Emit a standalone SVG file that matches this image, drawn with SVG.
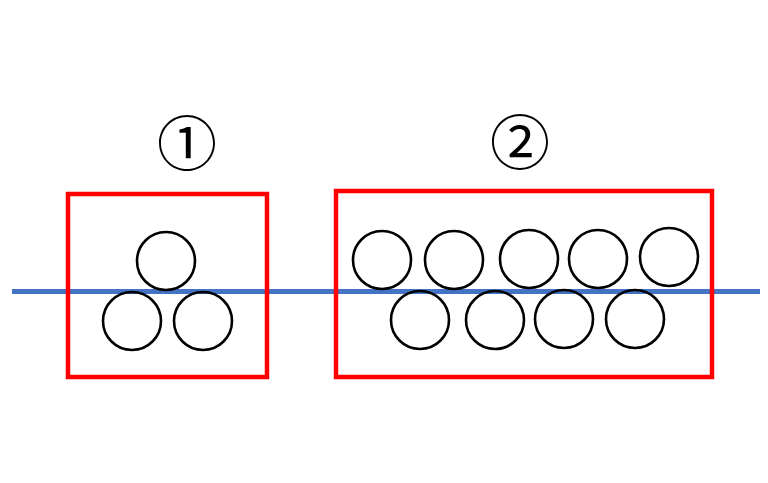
<svg xmlns="http://www.w3.org/2000/svg" width="768" height="483" viewBox="0 0 768 483">
<style>
.box{fill:none;stroke:#ff0000;stroke-width:4.5}
.c{fill:none;stroke:#000;stroke-width:2.6}
.lbl{font-family:"Noto Sans CJK JP","DejaVu Serif",serif;font-size:60px;text-anchor:middle;fill:#000}
</style>
<rect width="768" height="483" fill="#fff"/>
<g id="connectors">
<line x1="12" y1="291.5" x2="760" y2="291.5" stroke="#4472c4" stroke-width="5"/>
</g>
<g id="group1">
<rect class="box" x="68" y="194" width="199" height="183"/>
<text class="lbl" x="187" y="166">①</text>
<circle class="c" cx="166" cy="261" r="29"/>
<circle class="c" cx="132" cy="321" r="29"/>
<circle class="c" cx="203" cy="321" r="29"/>
</g>
<g id="group2">
<rect class="box" x="336" y="191" width="376" height="186"/>
<text class="lbl" x="520" y="165">②</text>
<circle class="c" cx="382" cy="260" r="29"/>
<circle class="c" cx="454" cy="260" r="29"/>
<circle class="c" cx="529" cy="259" r="29"/>
<circle class="c" cx="598" cy="259" r="29"/>
<circle class="c" cx="669" cy="257" r="29"/>
<circle class="c" cx="420" cy="320" r="29"/>
<circle class="c" cx="495" cy="320" r="29"/>
<circle class="c" cx="564" cy="319" r="29"/>
<circle class="c" cx="635" cy="319" r="29"/>
</g>
</svg>
